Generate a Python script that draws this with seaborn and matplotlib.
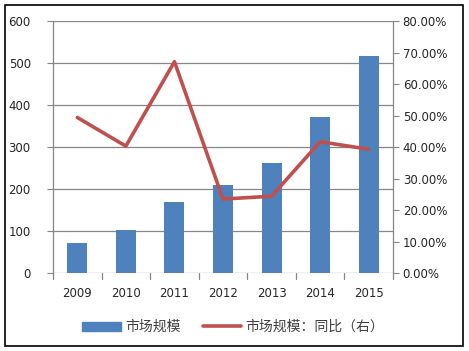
import numpy as np
import pandas as pd
import matplotlib
matplotlib.use("Agg")
import matplotlib.pyplot as plt
import seaborn as sns
from matplotlib.patches import Patch, Rectangle
from matplotlib.lines import Line2D
from matplotlib.ticker import FuncFormatter

# data
years = ["2009", "2010", "2011", "2012", "2013", "2014", "2015"]
market = [72, 102, 170, 210, 262, 372, 517]
yoy = [49.4, 40.3, 67.1, 23.5, 24.4, 41.7, 39.3]

bar_label = "市场规模"
line_label = "市场规模：同比（右）"

sns.set_style("white")
plt.rcParams['font.family'] = ['DejaVu Sans', 'Noto Sans CJK SC']

fig = plt.figure(figsize=(4.69, 3.51), dpi=100)
ax = fig.add_axes([0.113, 0.222, 0.725, 0.718])

df = pd.DataFrame({"year": years, "market": market, "yoy": yoy})
sns.barplot(data=df, x="year", y="market", color="#4F81BD", saturation=1,
            width=0.41, linewidth=0, ax=ax, zorder=2)
ax.set_ylim(0, 600)
ax.set_yticks(range(0, 601, 100))
ax.yaxis.grid(True, color="#868686", lw=0.9)
ax.set_axisbelow(True)
ax.set_xlabel("")
ax.set_ylabel("")
for s in ["top", "right", "bottom"]:
    ax.spines[s].set_visible(False)
ax.spines["left"].set_color("#868686")
ax.spines["left"].set_linewidth(0.9)
ax.tick_params(axis="y", length=4, color="#868686", labelsize=8.5, pad=12, left=True)
ax.tick_params(axis="x", length=0, labelsize=8.5, pad=10)
ax.set_xlim(-0.5, len(years) - 0.5)
for x in np.arange(-0.5, len(years), 1.0):
    ax.plot([x, x], [0, -0.025], transform=ax.get_xaxis_transform(),
            color="#868686", lw=0.9, clip_on=False)

ax2 = ax.twinx()
sns.lineplot(x=np.arange(len(years)), y=yoy, ax=ax2, color="#C0504D", lw=2.6)
ax2.set_ylim(0, 80)
ax2.set_yticks(range(0, 81, 10))
ax2.yaxis.set_major_formatter(FuncFormatter(lambda v, p: f"{v:.2f}%"))
for s in ["top", "left", "bottom"]:
    ax2.spines[s].set_visible(False)
ax2.spines["right"].set_color("#868686")
ax2.spines["right"].set_linewidth(0.9)
ax2.tick_params(axis="y", length=4, color="#868686", labelsize=8.5, pad=3, right=True)

handles = [Patch(color="#4F81BD"), Line2D([0], [0], color="#C0504D", lw=2.6)]
leg = fig.legend(handles, [bar_label, line_label], loc="center", bbox_to_anchor=(0.497, 0.068),
                 ncol=2, frameon=False, handlelength=2.75, columnspacing=1.6,
                 handletextpad=0.3, handleheight=0.6,
                 prop={"family": ["Noto Sans CJK SC", "DejaVu Sans"], "size": 10})
for t in leg.get_texts():
    t.set_color("#404040")

fig.patches.append(Rectangle((0.011, 0.014), 0.976, 0.972, transform=fig.transFigure,
                             fill=False, edgecolor="black", lw=1.2))

fig.savefig("out.png", dpi=100)
